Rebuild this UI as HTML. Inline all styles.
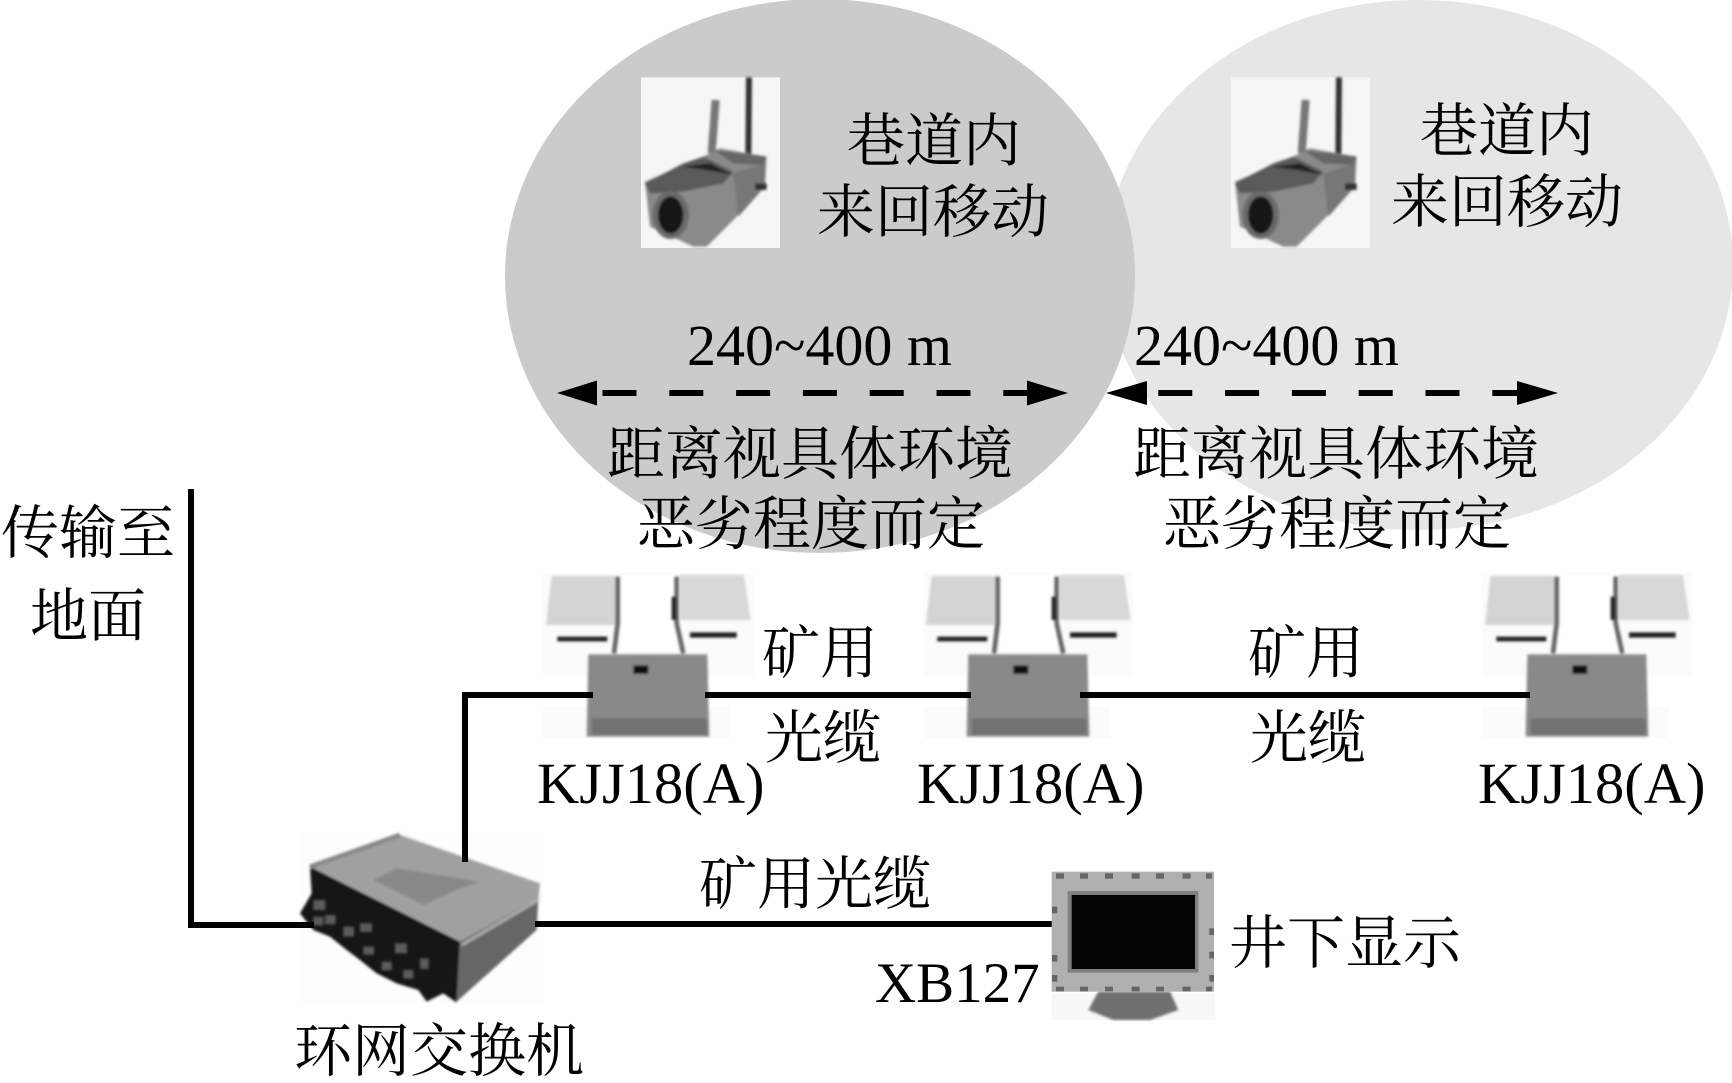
<!DOCTYPE html>
<html><head><meta charset="utf-8"><style>
html,body{margin:0;padding:0;background:#fff;width:1732px;height:1083px;overflow:hidden}
svg{display:block}
.c{font-family:"Liberation Serif","Noto Serif CJK SC",serif;font-size:58px;fill:#000}
.l{font-family:"Liberation Serif",serif;font-size:58.5px;fill:#000}
.n{font-family:"Liberation Serif",serif;font-size:58px;fill:#000}
</style></head><body>
<svg xmlns="http://www.w3.org/2000/svg" width="1732" height="1083" viewBox="0 0 1732 1083">
<defs>
<filter id="b" x="-5%" y="-5%" width="110%" height="110%"><feGaussianBlur stdDeviation="4"/></filter>
<g id="cam">
<rect x="123" y="82" width="417" height="512" fill="#f6f6f6"/>
<g filter="url(#b)">
<path d="M347 150L335 310" stroke="#777" stroke-width="24" fill="none"/>
<path d="M447 82L445 330" stroke="#333" stroke-width="18" fill="none"/>
<path d="M135 395L310 320L360 295L500 320L495 410L400 510L320 590L280 590L150 530Z" fill="#8a8a8a"/>
<path d="M135 400L250 340L310 320L400 365L370 400L250 425L150 430Z" fill="#5a5a5a"/>
<path d="M245 350L330 340L400 375L320 360Z" fill="#222"/>
<path d="M340 300L500 320L490 345L400 340Z" fill="#666"/>
<path d="M400 370L495 340L495 410L415 500Z" fill="#777"/>
<rect x="465" y="400" width="35" height="20" fill="#333"/>
<ellipse cx="212" cy="495" rx="55" ry="72" fill="#6a6a6a"/>
<ellipse cx="212" cy="495" rx="38" ry="56" fill="#151515"/>
</g>
</g>
<g id="ap">
<rect x="70" y="40" width="630" height="310" fill="#fbfbfb"/>
<rect x="70" y="440" width="560" height="95" fill="#fbfbfb"/>
<rect x="300" y="45" width="170" height="230" fill="#fff"/>
<g filter="url(#b)">
<path d="M95 48H290V195H78Z" fill="#d4d4d4"/>
<path d="M480 45H672L692 180H480Z" fill="#d8d8d8"/>
<path d="M112 237H262" stroke="#222" stroke-width="14"/>
<path d="M510 225H650" stroke="#222" stroke-width="16"/>
<path d="M293 50V190L282 280" stroke="#666" stroke-width="14" fill="none"/>
<path d="M470 50V190L490 280" stroke="#666" stroke-width="14" fill="none"/>
<path d="M462 110V180" stroke="#222" stroke-width="14"/>
<path d="M205 283H562L568 530H200Z" fill="#898989"/>
<rect x="215" y="475" width="345" height="50" fill="#727272"/>
<rect x="340" y="316" width="45" height="26" fill="#111"/>
</g>
</g>
</defs>

<rect width="1732" height="1083" fill="#fff"/>
<ellipse cx="1419" cy="265" rx="314" ry="265" fill="#e6e6e6"/>
<ellipse cx="820" cy="276" rx="315" ry="277" fill="#cbcbcb"/>

<g transform="translate(600,50) scale(.3333)"><use href="#cam"/></g>
<g transform="translate(1190,50) scale(.3333)"><use href="#cam"/></g>

<!-- AP units -->
<g transform="translate(520,560) scale(.3333)"><use href="#ap"/></g>
<g transform="translate(900,560) scale(.3333)"><use href="#ap"/></g>
<g transform="translate(1459,560) scale(.3333)"><use href="#ap"/></g>

<!-- connector segments between boxes -->
<g stroke="#000" stroke-width="6" fill="none">
<path d="M462 695H593"/>
<path d="M705 695H971"/>
<path d="M1080 695H1530"/>
</g>

<!-- switch -->
<g transform="translate(280,820) scale(.3333)">
<rect x="60" y="35" width="730" height="515" fill="#fdfdfd"/>
<g filter="url(#b)">
<path d="M90 140L360 45L780 190L775 240L540 365Z" fill="#a0a0a0"/>
<path d="M90 140L95 220L60 280L100 330L150 350L200 390L240 420L290 460L350 490L415 510L440 545L490 520L530 548L540 365Z" fill="#141414"/>
<path d="M540 365L775 235L770 330L530 545Z" fill="#666"/>
<path d="M545 375L775 240" stroke="#aaa" stroke-width="10"/>
<path d="M280 180L350 145L600 185L540 205L430 255Z" fill="#888"/>
<path d="M90 140L360 45" stroke="#888" stroke-width="14"/>
</g>
<g fill="#5c5c5c" filter="url(#b)">
<rect x="100" y="240" width="36" height="30"/><rect x="135" y="285" width="32" height="28"/><rect x="100" y="290" width="30" height="26"/>
<rect x="190" y="320" width="32" height="30"/><rect x="240" y="310" width="36" height="26"/><rect x="250" y="380" width="32" height="24"/>
<rect x="345" y="370" width="36" height="30"/><rect x="305" y="425" width="30" height="26"/><rect x="370" y="450" width="30" height="26"/>
<rect x="420" y="415" width="26" height="32"/>
</g>
</g>

<!-- connectors touching the switch and monitor -->
<g stroke="#000" stroke-width="6" fill="none">
<path d="M191 489V925H314"/>
<path d="M465 692V862"/>
<path d="M535 924H1054"/>
</g>

<!-- dashed arrows -->
<g stroke="#000" stroke-width="6" fill="none">
<path d="M602.5 393H1030" stroke-dasharray="34 32.8"/>
<path d="M1158.3 393H1520" stroke-dasharray="34 32.8"/>
</g>
<path d="M557 393L597 380.5V405.5Z"/>
<path d="M1068 393L1027 380.5V405.5Z"/>
<path d="M1106 393L1147 381V405Z"/>
<path d="M1558 393L1517 381V405Z"/>

<!-- monitor -->
<g transform="translate(1030,850) scale(.3333)">
<rect x="65" y="430" width="490" height="80" fill="#f8f8f8"/>
<path d="M205 425H420L445 480L360 510H250L175 480Z" fill="#6f6f6f" filter="url(#b)"/>
<rect x="65" y="65" width="487" height="360" fill="#b0b0b0"/>
<rect x="113" y="123" width="392" height="245" fill="#808080"/>
<rect x="125" y="135" width="370" height="222" fill="#050505"/>
<g fill="#666">
<rect x="78" y="70" width="24" height="16"/><rect x="150" y="70" width="24" height="16"/><rect x="225" y="70" width="24" height="16"/><rect x="305" y="70" width="24" height="16"/><rect x="378" y="70" width="24" height="16"/><rect x="458" y="70" width="24" height="16"/><rect x="528" y="70" width="18" height="16"/>
<rect x="78" y="410" width="24" height="14"/><rect x="150" y="410" width="24" height="14"/><rect x="225" y="410" width="24" height="14"/><rect x="305" y="410" width="24" height="14"/><rect x="378" y="410" width="24" height="14"/><rect x="458" y="410" width="24" height="14"/><rect x="528" y="410" width="18" height="14"/>
<rect x="66" y="170" width="16" height="20"/><rect x="66" y="315" width="16" height="20"/><rect x="66" y="375" width="16" height="20"/>
<rect x="538" y="235" width="14" height="20"/><rect x="538" y="305" width="14" height="20"/><rect x="538" y="375" width="14" height="20"/>
</g>
</g>

<!-- labels -->
<g>
<text class="c" x="847" y="161">巷道内</text>
<text class="c" x="817" y="232">来回移动</text>
<text class="c" x="1420" y="151">巷道内</text>
<text class="c" x="1391" y="222">来回移动</text>
<text class="n" x="687" y="365">240~400 m</text>
<text class="n" x="1134" y="365">240~400 m</text>
<text class="c" x="607" y="474">距离视具体环境</text>
<text class="c" x="637" y="544">恶劣程度而定</text>
<text class="c" x="1133" y="474">距离视具体环境</text>
<text class="c" x="1163" y="544">恶劣程度而定</text>
<text class="c" x="1" y="553">传输至</text>
<text class="c" x="30" y="636">地面</text>
<text class="c" x="762" y="673">矿用</text>
<text class="c" x="765" y="758">光缆</text>
<text class="c" x="1248" y="673">矿用</text>
<text class="c" x="1250" y="758">光缆</text>
<text class="l" x="537" y="803">KJJ18(A)</text>
<text class="l" x="917" y="803">KJJ18(A)</text>
<text class="l" x="1478" y="803">KJJ18(A)</text>
<text class="c" x="699" y="904">矿用光缆</text>
<text class="c" x="1229" y="963">井下显示</text>
<text class="l" x="875" y="1002" style="font-size:57px">XB127</text>
<text class="c" x="294" y="1071">环网交换机</text>
</g>
</svg>
</body></html>
